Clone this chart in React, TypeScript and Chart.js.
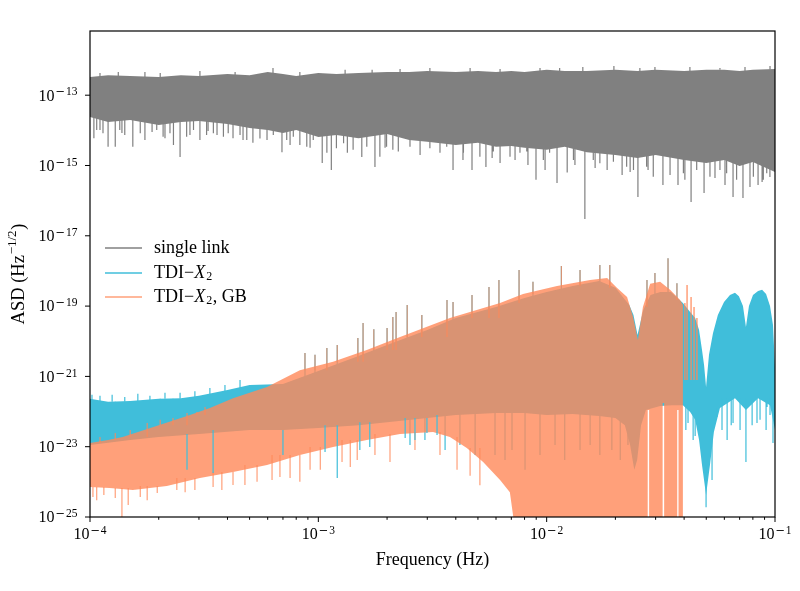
import React, { useEffect, useRef } from "react";
import { Chart, registerables } from "chart.js";

Chart.register(...registerables);

type Pair = [number, number];
type Triple = [number, number, number];

// ---------- axes ----------
const xTickValues = [1e-4, 1e-3, 1e-2, 1e-1];
const xTickExponents = ["\u22124", "\u22123", "\u22122", "\u22121"];
const xMinorTicks = [
  2e-4, 3e-4, 4e-4, 5e-4, 6e-4, 7e-4, 8e-4, 9e-4,
  2e-3, 3e-3, 4e-3, 5e-3, 6e-3, 7e-3, 8e-3, 9e-3,
  2e-2, 3e-2, 4e-2, 5e-2, 6e-2, 7e-2, 8e-2, 9e-2,
];
const yTickValues = [1e-25, 1e-23, 1e-21, 1e-19, 1e-17, 1e-15, 1e-13];
const yTickExponents = ["\u221225", "\u221223", "\u221221", "\u221219", "\u221217", "\u221215", "\u221213"];
const xAxisTitle = "Frequency (Hz)";
const yAxisTitle = "ASD (Hz";
const yAxisTitleSup = "\u22121/2";

// ---------- single link (grey) ----------
const grayUpper: Pair[] = [
  [1e-4, 3.3e-13], [1.2e-4, 3.7e-13], [1.5e-4, 3.5e-13], [2e-4, 3.3e-13], [2.5e-4, 3.7e-13],
  [3e-4, 3.5e-13], [4e-4, 4.0e-13], [5e-4, 3.7e-13], [6e-4, 4.6e-13], [7e-4, 4.0e-13],
  [8e-4, 3.5e-13], [1e-3, 4.3e-13], [1.2e-3, 4.0e-13], [1.5e-3, 4.3e-13], [2e-3, 4.6e-13],
  [2.5e-3, 4.6e-13], [3e-3, 4.9e-13], [4e-3, 4.6e-13], [5e-3, 4.9e-13], [6e-3, 4.6e-13],
  [7e-3, 4.9e-13], [8e-3, 4.6e-13], [1e-2, 5.3e-13], [1.2e-2, 4.9e-13], [1.5e-2, 4.9e-13],
  [2e-2, 5.3e-13], [2.5e-2, 4.9e-13], [3e-2, 5.3e-13], [4e-2, 4.9e-13], [5e-2, 5.3e-13],
  [6e-2, 5.3e-13], [7e-2, 4.9e-13], [8e-2, 5.3e-13], [1e-1, 5.6e-13],
];
const grayLower: Pair[] = [
  [1e-4, 2.4e-14], [1.2e-4, 1.73e-14], [1.5e-4, 1.96e-14], [2e-4, 1.41e-14], [2.5e-4, 1.73e-14],
  [3e-4, 1.85e-14], [4e-4, 1.51e-14], [5e-4, 1.17e-14], [6e-4, 1.02e-14], [7e-4, 8.4e-15],
  [8e-4, 1.02e-14], [1e-3, 6.5e-15], [1.2e-3, 7.4e-15], [1.5e-3, 6.0e-15], [2e-3, 7.9e-15],
  [2.5e-3, 5.3e-15], [3e-3, 4.7e-15], [4e-3, 3.8e-15], [5e-3, 4.4e-15], [6e-3, 3.4e-15],
  [7e-3, 3.6e-15], [8e-3, 3.2e-15], [1e-2, 2.8e-15], [1.2e-2, 3.4e-15], [1.5e-2, 2.4e-15],
  [2e-2, 2.0e-15], [2.5e-2, 1.63e-15], [3e-2, 2.0e-15], [4e-2, 1.43e-15], [5e-2, 1.18e-15],
  [6e-2, 1.43e-15], [7e-2, 9.7e-16], [8e-2, 1.26e-15], [1e-1, 6.5e-16],
];
const grayDips: Pair[] = [
  [1.04e-4, 6.0e-15], [1.07e-4, 1.02e-14], [1.106e-4, 1.02e-14], [1.14e-4, 8.3e-15], [1.2e-4, 3.4e-15],
  [1.29e-4, 3.4e-15], [1.35e-4, 1.02e-14], [1.38e-4, 8.4e-15], [1.42e-4, 7.4e-15], [1.54e-4, 3.4e-15],
  [1.66e-4, 8.3e-15], [1.74e-4, 5.3e-15], [1.87e-4, 8.9e-15], [1.96e-4, 1.02e-14], [2.09e-4, 6.6e-15],
  [2.13e-4, 6.0e-15], [2.24e-4, 8.3e-15], [2.32e-4, 3.8e-15], [2.48e-4, 1.74e-15], [2.65e-4, 6.6e-15],
  [2.74e-4, 7.4e-15], [2.84e-4, 1.02e-14], [3.03e-4, 5.3e-15], [3.24e-4, 7.4e-15], [3.29e-4, 9.5e-15],
  [3.47e-4, 8.3e-15], [3.6e-4, 7.4e-15], [3.84e-4, 6.6e-15], [4.03e-4, 8.3e-15], [4.23e-4, 6.0e-15],
  [4.54e-4, 7.4e-15], [4.68e-4, 5.3e-15], [4.86e-4, 5.3e-15], [5.17e-4, 4.4e-15], [5.55e-4, 5.9e-15],
  [5.96e-4, 5.3e-15], [6.35e-4, 7.4e-15], [6.93e-4, 2.4e-15], [7.27e-4, 5.3e-15], [7.52e-4, 3.8e-15],
  [7.77e-4, 6.6e-15], [8.3e-4, 3.8e-15], [8.9e-4, 3.4e-15], [9.2e-4, 3.2e-15], [9.5e-4, 5.3e-15],
  [1.04e-3, 1.18e-15], [1.09e-3, 2.3e-15], [1.14e-3, 7.5e-16], [1.2e-3, 3.1e-15], [1.29e-3, 4.3e-15],
  [1.34e-3, 2.3e-15], [1.42e-3, 2.8e-15], [1.55e-3, 1.74e-15], [1.63e-3, 3.4e-15], [1.77e-3, 9.1e-16],
  [1.86e-3, 1.78e-15], [1.96e-3, 3.2e-15], [1.99e-3, 3.4e-15], [2.12e-3, 2.8e-15], [2.24e-3, 2.5e-15],
  [2.52e-3, 3.4e-15], [2.79e-3, 2.0e-15], [3.08e-3, 3.1e-15], [3.41e-3, 2.3e-15], [3.65e-3, 3.4e-15],
  [3.89e-3, 7.5e-16], [4.3e-3, 1.43e-15], [4.32e-3, 2.3e-15], [4.71e-3, 7.5e-16], [5.1e-3, 1.78e-15],
  [5.42e-3, 9.1e-16], [5.77e-3, 1.63e-15], [5.84e-3, 2.5e-15], [6.25e-3, 1.18e-15], [6.91e-3, 1.78e-15],
  [7.27e-3, 1.43e-15], [7.64e-3, 2.3e-15], [8.18e-3, 2.5e-15], [8.28e-3, 1.03e-15], [8.98e-3, 3.9e-16],
  [9.67e-3, 1.43e-15], [9.84e-3, 7.5e-16], [1.03e-2, 2.3e-15], [1.11e-2, 3.2e-16], [1.23e-2, 6.3e-16],
  [1.31e-2, 1.43e-15], [1.33e-2, 1.03e-15], [1.47e-2, 3.0e-17], [1.6e-2, 1.43e-15], [1.63e-2, 8.5e-16],
  [1.71e-2, 1.16e-15], [1.84e-2, 7.5e-16], [1.96e-2, 1.28e-15], [2.14e-2, 5.4e-16], [2.24e-2, 9.2e-16],
  [2.32e-2, 6.5e-16], [2.4e-2, 7.5e-16], [2.51e-2, 1.26e-16], [2.74e-2, 9.2e-16], [2.78e-2, 7.5e-16],
  [2.93e-2, 4.8e-16], [3.23e-2, 2.8e-16], [3.47e-2, 5.4e-16], [3.76e-2, 2.8e-16], [3.97e-2, 6.0e-16],
  [4.03e-2, 3.9e-16], [4.29e-2, 9.1e-17], [4.54e-2, 7.5e-16], [4.89e-2, 1.65e-16], [5.19e-2, 4.8e-16],
  [5.46e-2, 4.4e-16], [5.74e-2, 7.5e-16], [6.04e-2, 2.8e-16], [6.14e-2, 6.0e-16], [6.55e-2, 1.26e-16],
  [6.79e-2, 3.9e-16], [7.24e-2, 1.19e-16], [7.77e-2, 2.46e-16], [8.04e-2, 4.8e-16], [8.43e-2, 2.8e-16],
  [8.78e-2, 3.4e-16], [8.89e-2, 3.9e-16], [9.2e-2, 6.0e-16], [9.5e-2, 4.7e-16],
];
const grayPeaks: Pair[] = [
  [1.106e-4, 4.3e-13], [1.33e-4, 4.6e-13], [1.74e-4, 4.6e-13], [2.03e-4, 4.3e-13], [3.03e-4, 4.9e-13],
  [4.32e-4, 4.6e-13], [6.33e-4, 5.9e-13], [8.3e-4, 4.6e-13], [1.31e-3, 5.3e-13], [1.72e-3, 5.3e-13],
  [2.28e-3, 5.6e-13], [3.08e-3, 5.9e-13], [4.62e-3, 5.9e-13], [6.25e-3, 5.6e-13], [9.35e-3, 5.9e-13],
  [1.14e-2, 5.9e-13], [1.44e-2, 6.3e-13], [1.97e-2, 6.8e-13], [2.56e-2, 5.9e-13], [2.98e-2, 6.3e-13],
  [4.24e-2, 6.3e-13], [5.74e-2, 5.9e-13], [7.39e-2, 6.3e-13], [9.51e-2, 6.8e-13],
];

// ---------- TDI-X2 (cyan) ----------
const cyanUpper: Pair[] = [
  [1e-4, 2.3e-22], [1.2e-4, 1.9e-22], [1.5e-4, 2.0e-22], [2e-4, 2.3e-22], [2.5e-4, 2.4e-22],
  [3e-4, 2.8e-22], [4e-4, 4.1e-22], [5e-4, 5.7e-22], [7e-4, 6.1e-22], [1e-3, 1.43e-21],
  [1.5e-3, 3.8e-21], [2e-3, 7.8e-21], [3e-3, 2.1e-20], [4e-3, 4.6e-20], [6e-3, 9.4e-20],
  [8e-3, 1.7e-19], [1e-2, 2.5e-19], [1.3e-2, 3.7e-19], [1.7e-2, 5.2e-19], [2e-2, 3.3e-19],
  [2.3e-2, 1.07e-19], [2.4e-2, 5.6e-20], [2.5e-2, 1.5e-20], [2.65e-2, 7.7e-20], [2.85e-2, 2.07e-19],
  [3.15e-2, 2.5e-19], [3.5e-2, 2.5e-19], [3.95e-2, 1.23e-19], [4.25e-2, 6.8e-20], [4.47e-2, 4.6e-20],
  [4.65e-2, 2.1e-20], [4.79e-2, 5.6e-21], [4.89e-2, 2.1e-21], [4.99e-2, 5e-22], [5.14e-2, 4.1e-21],
  [5.35e-2, 1.7e-20], [5.62e-2, 5.6e-20], [5.98e-2, 1.3e-19], [6.35e-2, 2.07e-19], [6.68e-2, 2.4e-19],
  [6.95e-2, 1.9e-19], [7.24e-2, 1.0e-19], [7.46e-2, 2.54e-20], [7.69e-2, 1.0e-19], [8.01e-2, 2.07e-19],
  [8.43e-2, 2.7e-19], [8.78e-2, 2.9e-19], [9.14e-2, 2.2e-19], [9.51e-2, 1.0e-19], [9.8e-2, 2.9e-20],
  [1e-1, 1.85e-21],
];
const cyanLower: Pair[] = [
  [1e-4, 1.12e-23], [1.5e-4, 1.55e-23], [2e-4, 1.9e-23], [3e-4, 2.3e-23], [5e-4, 3e-23],
  [7e-4, 3e-23], [1e-3, 3.4e-23], [1.5e-3, 4.1e-23], [2e-3, 5.0e-23], [3e-3, 6.6e-23],
  [4e-3, 8e-23], [6e-3, 9.1e-23], [8e-3, 9.1e-23], [1e-2, 8e-23], [1.3e-2, 8.5e-23],
  [1.7e-2, 7.5e-23], [2e-2, 6.6e-23], [2.2e-2, 4.1e-23], [2.32e-2, 1.12e-23], [2.42e-2, 2.2e-24],
  [2.49e-2, 4.2e-24], [2.59e-2, 4.1e-23], [2.72e-2, 1.1e-22], [3.14e-2, 1.44e-22], [3.54e-2, 1.5e-22],
  [3.95e-2, 1.5e-22], [4.25e-2, 9.7e-23], [4.47e-2, 5.8e-23], [4.65e-2, 1.55e-23], [4.79e-2, 3e-24],
  [4.99e-2, 4.2e-25], [5.19e-2, 3e-24], [5.4e-2, 2.6e-23], [5.74e-2, 1.26e-22], [6.68e-2, 2.4e-22],
  [7.46e-2, 1.1e-22], [8.43e-2, 2.4e-22], [9.51e-2, 1.5e-22], [1e-1, 3e-23],
];
const cyanDips: Pair[] = [
  [2.66e-4, 2.2e-24], [3.46e-4, 1.8e-24], [7.0e-4, 5.8e-24], [1.07e-3, 7.1e-24], [1.21e-3, 1.29e-24],
  [1.52e-3, 8.1e-24], [1.68e-3, 9.8e-24], [2.4e-3, 1.77e-23], [2.65e-3, 1.55e-23], [2.99e-3, 2.46e-23],
  [3.31e-3, 2.15e-23], [4.07e-2, 3e-23], [4.16e-2, 4.7e-23], [4.38e-2, 1.55e-23], [4.47e-2, 2.0e-23],
  [4.99e-2, 1.9e-25], [5.3e-2, 1.13e-24], [5.57e-2, 7e-23], [5.86e-2, 3e-23], [6.17e-2, 1.55e-23],
  [6.43e-2, 4.1e-23], [6.55e-2, 4.7e-23], [7.03e-2, 3e-23], [7.46e-2, 3.7e-24], [7.94e-2, 4.1e-23],
  [8.34e-2, 4.7e-23], [8.6e-2, 5.8e-23], [9.14e-2, 3e-23], [9.23e-2, 1.35e-22], [9.51e-2, 8e-23],
  [9.8e-2, 1.28e-23],
];
// cyan dips hidden under the GB curve (seen as brown streaks)
const cyanUnderDips: Pair[] = [
  [2.52e-3, 1.12e-23], [2.93e-3, 1.55e-23], [3.59e-3, 8.1e-24], [4.17e-3, 1.12e-23], [4.86e-3, 5.8e-24],
  [5.94e-3, 5.8e-24], [6.57e-3, 4.2e-24], [7.05e-3, 8.1e-24], [8.04e-3, 2.2e-24], [9.35e-3, 5.8e-24],
  [1.088e-2, 1.12e-23], [1.2e-2, 4.2e-24], [1.4e-2, 8.1e-24], [1.55e-2, 1.12e-23], [1.71e-2, 5.8e-24],
  [1.93e-2, 8.1e-24], [2.1e-2, 4.2e-24], [2.27e-2, 1.12e-23],
];
const cyanTopPeaks: Pair[] = [
  [1.02e-4, 3.0e-22], [1.106e-4, 2.8e-22], [1.25e-4, 3.0e-22], [1.42e-4, 2.6e-22], [1.62e-4, 3.2e-22],
  [1.83e-4, 2.8e-22], [2.13e-4, 3.4e-22], [2.48e-4, 3.4e-22], [2.88e-4, 3.8e-22], [3.35e-4, 4.7e-22],
  [3.9e-4, 5.7e-22], [4.54e-4, 7.9e-22],
];

// ---------- TDI-X2, GB (orange) ----------
const orangeUpper: Pair[] = [
  [1e-4, 1.28e-23], [1.2e-4, 1.55e-23], [1.39e-4, 1.9e-23], [2e-4, 4.1e-23], [2.74e-4, 8e-23],
  [3.35e-4, 1.26e-22], [4.23e-4, 2.4e-22], [5.96e-4, 5e-22], [8.3e-4, 1.5e-21], [1.16e-3, 2.6e-21],
  [1.63e-3, 5.6e-21], [2.28e-3, 1.32e-20], [3.77e-3, 4.6e-20], [6.25e-3, 1.23e-19], [7.88e-3, 2.2e-19],
  [1.11e-2, 3.7e-19], [1.55e-2, 5.5e-19], [1.84e-2, 6.3e-19], [2.03e-2, 3.3e-19], [2.25e-2, 1.8e-19],
  [2.39e-2, 4.9e-20], [2.51e-2, 1.09e-20], [2.64e-2, 9.4e-20], [2.84e-2, 4.3e-19], [3.14e-2, 4.9e-19],
  [3.47e-2, 2.9e-19], [3.84e-2, 1.5e-19], [3.95e-2, 1.07e-19],
];
const orangeLower: Pair[] = [
  [1e-4, 7.1e-25], [1.22e-4, 6.7e-25], [1.54e-4, 5.9e-25], [2.17e-4, 7.6e-25], [3.03e-4, 1.29e-24],
  [4.23e-4, 1.9e-24], [5.96e-4, 3.0e-24], [8.3e-4, 5.8e-24], [1.16e-3, 9.8e-24], [1.63e-3, 1.55e-23],
  [2.28e-3, 2.3e-23], [3.18e-3, 2.6e-23], [3.77e-3, 1.9e-23], [4.47e-3, 9.2e-24], [5.27e-3, 3.7e-24],
  [6.25e-3, 1.13e-24], [6.9e-3, 5.1e-25], [7.5e-3, 1e-26], [2.77e-2, 1e-26], [2.77e-2, 1.1e-22],
  [2.81e-2, 1.1e-22], [2.81e-2, 1e-26], [3.22e-2, 1e-26], [3.22e-2, 1.75e-22], [3.27e-2, 1.75e-22],
  [3.27e-2, 1e-26], [3.73e-2, 1e-26], [3.73e-2, 1.1e-22], [3.78e-2, 1.1e-22], [3.78e-2, 1e-26],
  [3.95e-2, 1e-26],
];
const orangeDips: Pair[] = [
  [1.03e-4, 3.7e-25], [1.07e-4, 3.0e-25], [1.15e-4, 4.2e-25], [1.29e-4, 3.5e-25], [1.38e-4, 1e-26],
  [1.47e-4, 2.2e-25], [1.66e-4, 3.7e-25], [1.78e-4, 3.0e-25], [1.97e-4, 4.8e-25], [2.40e-4, 5.9e-25],
  [2.61e-4, 5.1e-25], [2.88e-4, 5.9e-25], [3.46e-4, 7.1e-25], [3.78e-4, 5.9e-25], [4.23e-4, 8.1e-25],
  [4.77e-4, 8.1e-25], [5.39e-4, 1e-24], [6.27e-4, 1.13e-24], [6.79e-4, 1.37e-24], [7.52e-4, 1.29e-24],
  [8.3e-4, 1e-24], [9.2e-4, 2.2e-24], [1.02e-3, 2.2e-24], [1.27e-3, 3.7e-24], [1.38e-3, 2.65e-24],
  [1.48e-3, 4.2e-24], [1.77e-3, 5.8e-24], [2.06e-3, 3.7e-24], [2.65e-3, 8.1e-24], [3.41e-3, 5.8e-24],
  [4.05e-3, 2.2e-24], [4.62e-3, 1.5e-24], [5.1e-3, 8e-25],
];
const orangePeaks: Pair[] = [
  [1.106e-4, 1.9e-23], [1.29e-4, 2.46e-23], [1.5e-4, 3e-23], [1.78e-4, 4.7e-23], [2.03e-4, 5.8e-23],
  [2.31e-4, 6.6e-23], [2.66e-4, 9.1e-23], [2.94e-4, 9.7e-23], [3.19e-4, 1.35e-22],
  [8.74e-4, 4.6e-21], [9.67e-4, 4.1e-21], [1.09e-3, 6.4e-21], [1.21e-3, 7.8e-21], [1.49e-3, 1.24e-20],
  [1.57e-3, 3.3e-20], [1.75e-3, 2.2e-20], [2.0e-3, 2.4e-20], [2.12e-3, 4.9e-20], [2.19e-3, 6.8e-20],
  [2.45e-3, 1.07e-19], [2.84e-3, 5.6e-20], [3.66e-3, 1.5e-19], [3.89e-3, 1.3e-19], [4.71e-3, 2.07e-19],
  [5.59e-3, 3.5e-19], [6.18e-3, 5.5e-19], [7.57e-3, 1.06e-18], [8.71e-3, 4.9e-19], [1.16e-2, 1.38e-18],
  [1.40e-2, 1.06e-18], [1.71e-2, 1.48e-18], [1.89e-2, 1.48e-18], [2.75e-2, 5.5e-19], [2.98e-2, 8.8e-19],
  [3.40e-2, 2.3e-18], [3.72e-2, 4.5e-19],
];
const orangeStripes: Triple[] = [
  [4.03e-2, 1.23e-19, 7.9e-22], [4.12e-2, 4e-19, 7.9e-22], [4.29e-2, 1.8e-19, 7.9e-22],
  [4.42e-2, 9.4e-20, 7.9e-22], [4.55e-2, 4.6e-20, 7.9e-22],
];

// ---------- colours / fonts ----------
const GRAY = "rgb(128,128,128)";
const CYAN = "rgb(64,190,218)";
const ORANGE_A = "rgba(255,136,89,0.8)";
const ORANGE_LEGEND = "rgb(255,160,122)";
const SERIF = '"Liberation Serif", "DejaVu Serif", serif';
const MINUS_FONT = '"DejaVu Serif", serif';

// ---------- helpers ----------
function bandPoints(upper: Pair[], lower: Pair[]) {
  const pts: { x: number; y: number | null }[] = upper.map(([x, y]) => ({ x, y }));
  for (let i = lower.length - 1; i >= 0; i--) pts.push({ x: lower[i][0], y: lower[i][1] });
  return pts;
}

function edgeAt(edge: Pair[], f: number, pick: (a: number, b: number) => number) {
  for (let i = 0; i < edge.length - 1; i++) {
    if (f >= edge[i][0] && f <= edge[i + 1][0]) return pick(edge[i][1], edge[i + 1][1]);
  }
  return edge[edge.length - 1][1];
}

function spikePoints(spikes: Pair[], edge: Pair[], pick: (a: number, b: number) => number) {
  const pts: { x: number; y: number | null }[] = [];
  for (const [f, v] of spikes) {
    pts.push({ x: f, y: edgeAt(edge, f, pick) }, { x: f, y: v }, { x: f, y: null });
  }
  return pts;
}

function stripePoints(stripes: Triple[]) {
  const pts: { x: number; y: number | null }[] = [];
  for (const [f, hi, lo] of stripes) pts.push({ x: f, y: hi }, { x: f, y: lo }, { x: f, y: null });
  return pts;
}

function band(label: string, data: any[], color: string, order: number) {
  return {
    label, data, order, showLine: true, fill: "shape", backgroundColor: color,
    borderColor: "rgba(0,0,0,0)", borderWidth: 0, pointRadius: 0, spanGaps: false,
  };
}
function lines(label: string, data: any[], color: string, width: number, order: number) {
  return {
    label, data, order, showLine: true, fill: false, borderColor: color,
    backgroundColor: color, borderWidth: width, pointRadius: 0, spanGaps: false,
  };
}

// "10" with a superscript exponent; minus drawn in a wider face (like TeX)
function drawPow(ctx: CanvasRenderingContext2D, exp: string, x: number, y: number, align: "right" | "center") {
  const baseFont = `16px ${SERIF}`;
  const minusFont = `11.5px ${MINUS_FONT}`;
  const digFont = `11.5px ${SERIF}`;
  const hasMinus = exp.startsWith("\u2212");
  const digits = hasMinus ? exp.slice(1) : exp;
  ctx.font = baseFont;
  const wb = ctx.measureText("10").width;
  ctx.font = minusFont;
  const wm = hasMinus ? ctx.measureText("\u2212").width + 0.8 : 0;
  ctx.font = digFont;
  const wd = ctx.measureText(digits).width;
  const total = wb + 1 + wm + wd;
  let x0 = align === "right" ? x - total : x - total / 2;
  ctx.textAlign = "left";
  ctx.textBaseline = "middle";
  ctx.font = baseFont;
  ctx.fillText("10", x0, y);
  x0 += wb + 1;
  const ey = y - 4;
  if (hasMinus) {
    ctx.font = minusFont;
    ctx.fillText("\u2212", x0, ey);
    x0 += wm;
  }
  ctx.font = digFont;
  ctx.fillText(digits, x0, ey);
}

const legendEntries: { color: string; parts: [string, string][] }[] = [
  { color: GRAY, parts: [["single link", "n"]] },
  { color: CYAN, parts: [["TDI\u2212", "n"], ["X", "i"], ["2", "s"]] },
  { color: ORANGE_LEGEND, parts: [["TDI\u2212", "n"], ["X", "i"], ["2", "s"], [", GB", "n"]] },
];

const decorPlugin = {
  id: "decor",
  afterDraw(chart: any) {
    const { ctx, chartArea: a, scales } = chart;
    const xs = scales.x;
    const ys = scales.y;
    ctx.save();
    ctx.strokeStyle = "#000";
    ctx.lineWidth = 1.2;
    ctx.strokeRect(a.left, a.top, a.right - a.left, a.bottom - a.top);
    ctx.lineWidth = 1;
    ctx.beginPath();
    for (const v of xTickValues) {
      const px = xs.getPixelForValue(v);
      ctx.moveTo(px, a.bottom);
      ctx.lineTo(px, a.bottom + 5);
    }
    for (const v of xMinorTicks) {
      const px = xs.getPixelForValue(v);
      ctx.moveTo(px, a.bottom);
      ctx.lineTo(px, a.bottom + 2.8);
    }
    for (const v of yTickValues) {
      const py = ys.getPixelForValue(v);
      ctx.moveTo(a.left, py);
      ctx.lineTo(a.left - 5, py);
    }
    ctx.stroke();

    ctx.fillStyle = "#000";
    xTickValues.forEach((v, i) => drawPow(ctx, xTickExponents[i], xs.getPixelForValue(v), a.bottom + 18, "center"));
    yTickValues.forEach((v, i) => drawPow(ctx, yTickExponents[i], a.left - 12.5, ys.getPixelForValue(v) + 1.2, "right"));

    ctx.font = `18px ${SERIF}`;
    ctx.textAlign = "center";
    ctx.textBaseline = "middle";
    ctx.fillText(xAxisTitle, (a.left + a.right) / 2, a.bottom + 43);

    ctx.save();
    ctx.translate(19, (a.top + a.bottom) / 2);
    ctx.rotate(-Math.PI / 2);
    ctx.font = `18.5px ${SERIF}`;
    const w1 = ctx.measureText(yAxisTitle).width;
    ctx.font = `13px ${SERIF}`;
    const w2 = ctx.measureText(yAxisTitleSup).width;
    ctx.font = `18.5px ${SERIF}`;
    const w3 = ctx.measureText(")").width;
    let xx = -(w1 + w2 + w3 + 1.5) / 2;
    ctx.textAlign = "left";
    ctx.fillText(yAxisTitle, xx, 0);
    xx += w1 + 0.8;
    ctx.font = `13px ${SERIF}`;
    ctx.fillText(yAxisTitleSup, xx, -6);
    xx += w2 + 0.7;
    ctx.font = `18.5px ${SERIF}`;
    ctx.fillText(")", xx, 0);
    ctx.restore();

    const ly = [a.top + 217, a.top + 242, a.top + 266];
    legendEntries.forEach((e, i) => {
      const y = ly[i];
      ctx.strokeStyle = e.color;
      ctx.lineWidth = 1.6;
      ctx.beginPath();
      ctx.moveTo(a.left + 15, y);
      ctx.lineTo(a.left + 52, y);
      ctx.stroke();
      let x = a.left + 64;
      ctx.fillStyle = "#000";
      ctx.textAlign = "left";
      ctx.textBaseline = "middle";
      for (const [t, s] of e.parts) {
        if (s === "s") {
          ctx.font = `12px ${SERIF}`;
          ctx.fillText(t, x + 0.5, y + 4);
          x += ctx.measureText(t).width + 1;
        } else {
          ctx.font = s === "i" ? `italic 18px ${SERIF}` : `18px ${SERIF}`;
          ctx.fillText(t, x, y);
          x += ctx.measureText(t).width + (s === "i" ? 0.5 : 0);
        }
      }
    });
    ctx.restore();
  },
};

const maxOf = (p: number, q: number) => Math.max(p, q);
const minOf = (p: number, q: number) => Math.min(p, q);

export default function App() {
  const ref = useRef<HTMLCanvasElement>(null);
  useEffect(() => {
    if (!ref.current) return;
    const datasets: any[] = [
      band("single link", bandPoints(grayUpper, grayLower), GRAY, 9),
      lines("single link dips", spikePoints(grayDips, grayLower, maxOf), GRAY, 1.2, 8),
      lines("single link peaks", spikePoints(grayPeaks, grayUpper, minOf), GRAY, 1.2, 8),
      band("TDI-X2", bandPoints(cyanUpper, cyanLower), CYAN, 7),
      lines("TDI-X2 peaks", spikePoints(cyanTopPeaks, cyanUpper, minOf), CYAN, 1.2, 7),
      lines("TDI-X2 GB-peaks", spikePoints(orangePeaks, cyanUpper, minOf), CYAN, 1.2, 7),
      lines("TDI-X2 hidden dips", spikePoints(cyanUnderDips, cyanLower, maxOf), CYAN, 1.2, 7),
      band("TDI-X2, GB", bandPoints(orangeUpper, orangeLower), ORANGE_A, 6),
      lines("GB dips", spikePoints(orangeDips, orangeLower, maxOf), ORANGE_A, 1.2, 5),
      lines("GB peaks", spikePoints(orangePeaks, orangeUpper, minOf), ORANGE_A, 1.2, 5),
      lines("GB stripes", stripePoints(orangeStripes), ORANGE_A, 1.5, 4),
      lines("TDI-X2 dips", spikePoints(cyanDips, cyanLower, maxOf), CYAN, 1.2, 3),
    ];
    const chart = new Chart(ref.current, {
      type: "scatter",
      data: { datasets },
      options: {
        animation: false,
        responsive: true,
        maintainAspectRatio: false,
        events: [],
        layout: { padding: { left: 0, right: 25, top: 31, bottom: 0 } },
        plugins: { legend: { display: false }, tooltip: { enabled: false } },
        elements: { point: { radius: 0 }, line: { tension: 0 } },
        scales: {
          x: {
            type: "logarithmic",
            min: 1e-4,
            max: 1e-1,
            grid: { display: false },
            border: { display: false },
            ticks: { display: false },
            afterFit: (s: any) => { s.height = 74; },
          },
          y: {
            type: "logarithmic",
            min: 1e-25,
            max: 6.7e-12,
            grid: { display: false },
            border: { display: false },
            ticks: { display: false },
            afterFit: (s: any) => { s.width = 90; },
          },
        },
      } as any,
      plugins: [decorPlugin],
    } as any);
    return () => chart.destroy();
  }, []);
  return (
    <div style={{ position: "absolute", left: 0, top: 0, width: 800, height: 591, background: "#fff" }}>
      <canvas ref={ref} />
    </div>
  );
}
